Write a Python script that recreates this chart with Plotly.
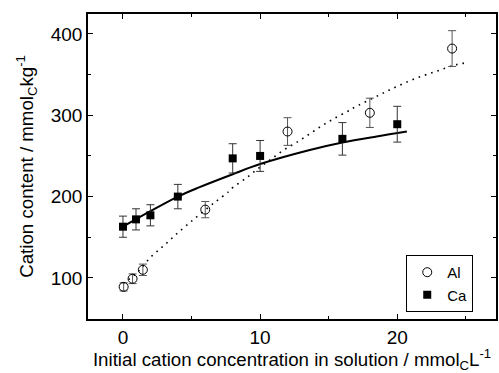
import plotly.graph_objects as go

# Al data (open circles)
al_x = [0.05, 0.7, 1.45, 6.0, 12.0, 18.0, 24.0]
al_y = [89, 99, 110, 184, 280, 303, 382]
al_err = [5, 6, 7, 10, 17, 18, 22]

# Ca data (filled squares)
ca_x = [0.0, 0.95, 2.0, 4.0, 8.0, 10.0, 16.0, 20.0]
ca_y = [163, 172, 177, 200, 247, 250, 271, 289]
ca_err = [13, 13, 13, 15, 18, 19, 20, 22]

# fitted curves
al_fit_x = [0.0, 1.0, 2.05, 3.0, 3.9, 4.8, 5.3, 6.7, 7.7, 8.0, 9.0, 9.9, 10.8, 11.7, 12.7, 13.6,
            14.5, 15.4, 16.4, 16.8, 18.7, 20.05, 21.45, 22.85, 24.25, 25.2]
al_fit_y = [93, 106, 126, 140, 154, 167, 174, 193, 206, 211, 223, 235, 246, 257, 267, 277,
            287, 296, 305, 309, 325, 336, 346, 354, 362, 365]
ca_fit_x = [0.0, 2.0, 4.0, 5.5, 8.0, 10.0, 13.55, 16.0, 18.5, 20.7]
ca_fit_y = [163, 182, 200, 211, 227.5, 240, 257, 266.5, 274, 280]

fig = go.Figure()

fig.add_trace(go.Scatter(x=al_fit_x, y=al_fit_y, mode="lines", showlegend=False,
                         line=dict(color="black", width=1.6, dash="1.6px,5px"),
                         line_shape="spline", hoverinfo="skip"))
fig.add_trace(go.Scatter(x=ca_fit_x, y=ca_fit_y, mode="lines", showlegend=False,
                         line=dict(color="black", width=2, smoothing=1.0), line_shape="spline",
                         hoverinfo="skip"))

fig.add_trace(go.Scatter(x=al_x, y=al_y, mode="markers", name="Al",
                         error_y=dict(type="data", array=al_err, color="#555", thickness=1, width=4),
                         marker=dict(symbol="circle-open", size=9, color="black",
                                     line=dict(width=1, color="black"))))
fig.add_trace(go.Scatter(x=ca_x, y=ca_y, mode="markers", name="Ca",
                         error_y=dict(type="data", array=ca_err, color="#333", thickness=1, width=4),
                         marker=dict(symbol="square", size=8, color="black")))

font = "Liberation Sans"
axis_common = dict(showline=True, linecolor="black", linewidth=1.5, mirror="ticks",
                   ticks="inside", ticklen=5, tickwidth=1, tickcolor="black",
                   showgrid=False, zeroline=False,
                   tickfont=dict(family=font, size=19, color="black"))

fig.update_layout(
    width=499, height=373,
    margin=dict(l=88, r=1, t=14, b=54),
    paper_bgcolor="white", plot_bgcolor="white",
    font=dict(family=font, size=15, color="black"),
    xaxis=dict(range=[-2.55, 27.2], tickvals=[0, 10, 20],
               minor=dict(ticks="inside", ticklen=3, dtick=5, tick0=0, tickcolor="black"),
               title=dict(text="Initial cation concentration in solution / mmol<sub>C</sub>L<sup>-1</sup>",
                          font=dict(family=font, size=18.7), standoff=2),
               **axis_common),
    yaxis=dict(range=[49.5, 424.5], tickvals=[100, 200, 300, 400],
               minor=dict(ticks="inside", ticklen=3, dtick=50, tick0=0, tickcolor="black"),
               title=dict(text="Cation content / mmol<sub>C</sub>kg<sup>-1</sup>",
                          font=dict(family=font, size=18.7), standoff=12),
               **axis_common),
    legend=dict(x=0.78, y=0.21, xanchor="left", yanchor="top",
                bordercolor="black", borderwidth=1, bgcolor="white",
                font=dict(family=font, size=15), itemwidth=30, tracegroupgap=0),
)

fig.write_html("out.html")
